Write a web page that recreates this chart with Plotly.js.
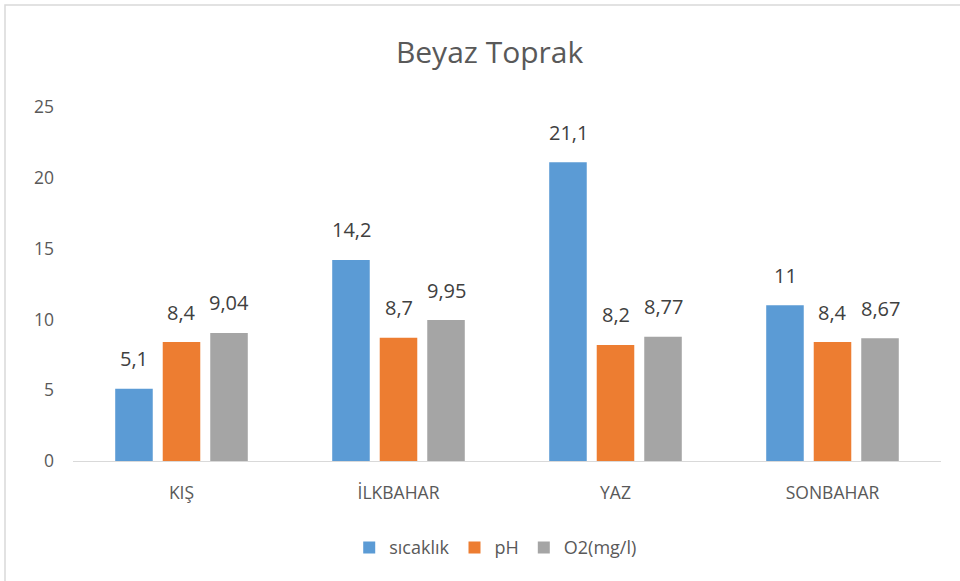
<!DOCTYPE html>
<html>
<head>
<meta charset="utf-8">
<script src="https://cdn.plot.ly/plotly-3.0.1.min.js"></script>
<style>html,body{margin:0;padding:0;background:#fff;}#chart{width:960px;height:581px;}</style>
</head>
<body>
<div id="chart"></div>
<script>
const categories = ['KIŞ', 'İLKBAHAR', 'YAZ', 'SONBAHAR'];
const seriesNames = ['sıcaklık', 'pH', 'O2(mg/l)'];
const sicaklik = [5.1, 14.2, 21.1, 11];
const ph = [8.4, 8.7, 8.2, 8.4];
const o2 = [9.04, 9.95, 8.77, 8.67];
const colors = ['#5B9BD5', '#ED7D31', '#A5A5A5'];
const yTicks = [0, 5, 10, 15, 20, 25];

const FONT = 'Open Sans, sans-serif';
const fmt = v => String(v).replace('.', ',');
const series = [sicaklik, ph, o2];
const traces = series.map((vals, i) => ({
  type: 'bar',
  name: seriesNames[i],
  x: categories,
  y: vals,
  marker: {color: colors[i]},
  hoverinfo: 'none'
}));

// data labels placed through the axes at each bar's value
const pitch = 47.5; // px between grouped bar centres
const annotations = [];
series.forEach((vals, i) => {
  vals.forEach((v, j) => {
    annotations.push({
      x: categories[j], y: v, xref: 'x', yref: 'y',
      text: fmt(v), showarrow: false,
      xshift: (i - 1) * pitch, yshift: 30, yanchor: 'middle',
      font: {family: FONT, size: 20, color: '#404040'}
    });
  });
});

const layout = {
  width: 960, height: 581,
  margin: {l: 73, r: 19, t: 107, b: 120},
  paper_bgcolor: '#fff', plot_bgcolor: '#fff',
  title: {text: 'Beyaz Toprak', x: 0.51, xanchor: 'center', y: 0.91, yanchor: 'middle',
          font: {family: FONT, size: 30, color: '#595959'}},
  barmode: 'group', bargap: 0.343, bargroupgap: 0.21,
  showlegend: true,
  legend: {orientation: 'h', x: 0.487, xanchor: 'center', y: -0.245, yanchor: 'middle',
           font: {family: FONT, size: 18, color: '#595959'},
           itemwidth: 30, traceorder: 'normal'},
  xaxis: {type: 'category', showgrid: false, zeroline: false, showline: true, linecolor: '#d9d9d9', linewidth: 1,
          ticks: '', tickfont: {family: FONT, size: 17.5, color: '#595959'}, ticklabelstandoff: 16},
  yaxis: {range: [0, 25], tickvals: yTicks, ticktext: yTicks.map(String), showgrid: false, zeroline: false,
          showline: false, ticks: '', tickfont: {family: FONT, size: 17.5, color: '#595959'},
          ticklabelstandoff: 18},
  font: {family: FONT},
  annotations: annotations,
  shapes: [{type: 'rect', xref: 'paper', yref: 'paper', x0: -68/868, x1: 1.2, y0: -0.36, y1: 1 + 102/354,
            line: {color: '#d9d9d9', width: 1.5}, fillcolor: 'rgba(0,0,0,0)', layer: 'below'}]
};

Plotly.newPlot('chart', traces, layout, {displayModeBar: false, staticPlot: true});
</script>
</body>
</html>
